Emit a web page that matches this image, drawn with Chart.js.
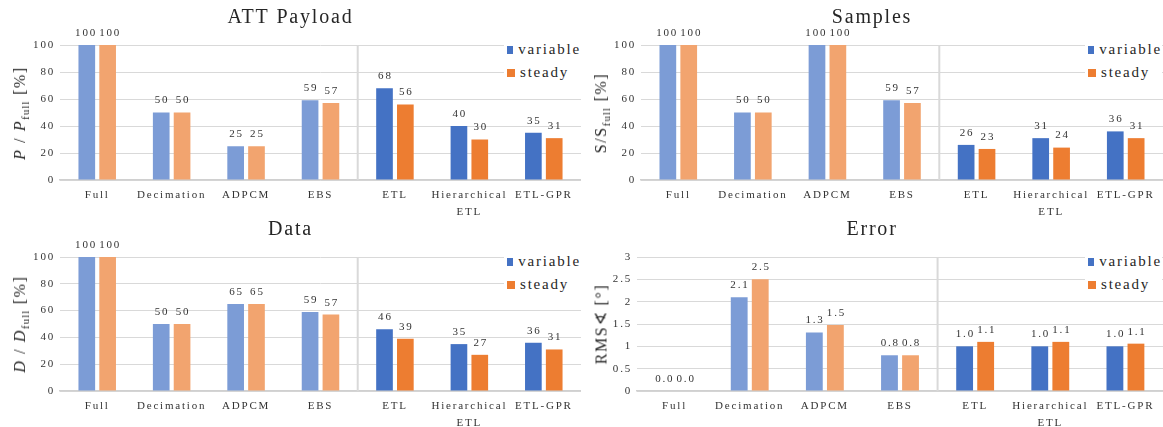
<!DOCTYPE html>
<html lang="en">
<head>
<meta charset="UTF-8">
<title>ATT Payload / Samples / Data / Error</title>
<script src="https://cdn.jsdelivr.net/npm/chart.js"></script>
<style>
body {
    margin: 0;
    background: #ffffff;
    width: 1163px;
    height: 427px;
    overflow: hidden;
    position: relative;
    font-family: 'Liberation Serif', 'Times New Roman', serif;
}
.panel {
    position: absolute;
}
.panel canvas {
    position: absolute;
    left: 0;
    top: 0;
}
/* titre de l'axe y, tourné */
.ytitle {
    position: absolute;
    left: 21px;
    top: 113px;
    transform: translate(-50%, -50%) rotate(-90deg);
    white-space: nowrap;
    font-size: 16px;
    letter-spacing: 1.6px;
    color: #262626;
}
.ytitle sub {
    font-size: 11px;
    vertical-align: -4px;
    letter-spacing: 1px;
}
.legend {
    position: absolute;
    left: 504px;
    top: 38px;
    width: 77px;
    background: #ffffff;
    font-size: 15px;
    letter-spacing: 1.8px;
    color: #262626;
}
.legend div {
    height: 23px;
    display: flex;
    align-items: center;
}
.legend span.box {
    display: inline-block;
    width: 8px;
    height: 8px;
    margin-left: 3px;
    margin-right: 5px;
}
</style>
</head>
<body>

<div class="panel" id="p1" style="left:0;top:0;">
    <canvas id="c1" width="581" height="222"></canvas>
    <div class="ytitle"><i>P</i> / <i>P</i><sub>full</sub> [%]</div>
    <div class="legend"><div><span class="box" style="background:#4472C4"></span>variable</div><div><span class="box" style="background:#ED7D31"></span>steady</div></div>
</div>
<div class="panel" id="p2" style="left:581px;top:0;">
    <canvas id="c2" width="582" height="222"></canvas>
    <div class="ytitle">S/S<sub>full</sub> [%]</div>
    <div class="legend"><div><span class="box" style="background:#4472C4"></span>variable</div><div><span class="box" style="background:#ED7D31"></span>steady</div></div>
</div>
<div class="panel" id="p3" style="left:0;top:212px;">
    <canvas id="c3" width="581" height="221"></canvas>
    <div class="ytitle" style="top:112px"><i>D</i> / <i>D</i><sub>full</sub> [%]</div>
    <div class="legend"><div><span class="box" style="background:#4472C4"></span>variable</div><div><span class="box" style="background:#ED7D31"></span>steady</div></div>
</div>
<div class="panel" id="p4" style="left:581px;top:212px;">
    <canvas id="c4" width="582" height="221"></canvas>
    <div class="ytitle" style="top:112px;left:20px;letter-spacing:1.6px">RMS∢ [°]</div>
    <div class="legend"><div><span class="box" style="background:#4472C4"></span>variable</div><div><span class="box" style="background:#ED7D31"></span>steady</div></div>
</div>

<script>
// catégories et valeurs
const categories = ['Full', 'Decimation', 'ADPCM', 'EBS', 'ETL', ['Hierarchical', 'ETL'], 'ETL-GPR'];

const payloadVariable = [100, 50, 25, 59, 68, 40, 35];
const payloadSteady   = [100, 50, 25, 57, 56, 30, 31];

const samplesVariable = [100, 50, 100, 59, 26, 31, 36];
const samplesSteady   = [100, 50, 100, 57, 23, 24, 31];

const dataVariable = [100, 50, 65, 59, 46, 35, 36];
const dataSteady   = [100, 50, 65, 57, 39, 27, 31];

const errorVariable = [0.0, 2.1, 1.31, 0.8, 1.0, 1.0, 1.0];
const errorSteady   = [0.0, 2.5, 1.48, 0.8, 1.1, 1.1, 1.06];

const percentTicks = [0, 20, 40, 60, 80, 100];
const errorTicks = [0, 0.5, 1, 1.5, 2, 2.5, 3];

const FONT = "'Liberation Serif', 'Times New Roman', serif";
const SPACING = 1.8;
const BLUE = '#4472C4', BLUE_LIGHT = '#7C9CD6';
const ORANGE = '#ED7D31', ORANGE_LIGHT = '#F2A46F';

// espacement des lettres (comme dans la figure d'origine)
const spacingPlugin = {
    id: 'spacing',
    beforeLayout(chart) { chart.ctx.letterSpacing = SPACING + 'px'; },
    beforeDraw(chart) { chart.ctx.letterSpacing = SPACING + 'px'; }
};

// trait vertical entre EBS et ETL
const separatorPlugin = {
    id: 'separator',
    beforeDatasetsDraw(chart) {
        const x = chart.scales.x;
        const area = chart.chartArea;
        const px = (x.getPixelForValue(3) + x.getPixelForValue(4)) / 2;
        const ctx = chart.ctx;
        ctx.save();
        ctx.strokeStyle = '#D9D9D9';
        ctx.lineWidth = 2;
        ctx.beginPath();
        ctx.moveTo(px, area.top);
        ctx.lineTo(px, area.bottom);
        ctx.stroke();
        ctx.restore();
    }
};

// valeurs au-dessus des barres (écartées si elles se chevauchent)
const valuesPlugin = {
    id: 'values',
    afterDatasetsDraw(chart) {
        const ctx = chart.ctx;
        const decimals = chart.options.plugins.values.decimals;
        const ds0 = chart.data.datasets[0], ds1 = chart.data.datasets[1];
        const bars0 = chart.getDatasetMeta(0).data, bars1 = chart.getDatasetMeta(1).data;
        ctx.save();
        ctx.letterSpacing = SPACING + 'px';
        ctx.font = '11px ' + FONT;
        ctx.fillStyle = '#333333';
        ctx.textAlign = 'center';
        ctx.textBaseline = 'middle';
        for (let j = 0; j < categories.length; j++) {
            const ta = ds0.data[j].toFixed(decimals);
            const tb = ds1.data[j].toFixed(decimals);
            const wa = ctx.measureText(ta).width - SPACING;
            const wb = ctx.measureText(tb).width - SPACING;
            let xa = bars0[j].x, xb = bars1[j].x;
            const overlap = wa / 2 + wb / 2 + 4 - (xb - xa);
            if (overlap > 0) {
                xa -= overlap / 2;
                xb += overlap / 2;
            }
            ctx.fillText(ta, xa + SPACING / 2, bars0[j].y - 12);
            ctx.fillText(tb, xb + SPACING / 2, bars1[j].y - 12);
        }
        ctx.restore();
    }
};

function shades(dark, light) {
    return categories.map((c, i) => i < 4 ? light : dark);
}

function renderPanel(canvasId, title, variable, steady, ticks, yWidth, decimals) {
    const ctx = document.getElementById(canvasId).getContext('2d');
    return new Chart(ctx, {
        type: 'bar',
        data: {
            labels: categories,
            datasets: [{
                label: 'variable',
                data: variable,
                backgroundColor: shades(BLUE, BLUE_LIGHT),
                categoryPercentage: 0.56,
                barPercentage: 0.8
            }, {
                label: 'steady',
                data: steady,
                backgroundColor: shades(ORANGE, ORANGE_LIGHT),
                categoryPercentage: 0.56,
                barPercentage: 0.8
            }]
        },
        options: {
            responsive: false,
            animation: false,
            layout: { padding: 0 },
            plugins: {
                legend: { display: false },
                tooltip: { enabled: false },
                title: {
                    display: true,
                    text: title,
                    color: '#262626',
                    font: { family: FONT, size: 20, weight: 'normal', lineHeight: 1.2 },
                    padding: { top: 6, bottom: 15 }
                },
                values: { decimals: decimals }
            },
            scales: {
                x: {
                    grid: { display: false, drawTicks: false },
                    border: { display: true, color: '#D0D0D0', width: 1.5 },
                    ticks: {
                        color: '#333333',
                        font: { family: FONT, size: 11, lineHeight: 1.5 },
                        padding: 7,
                        maxRotation: 0,
                        autoSkip: false
                    },
                    afterFit(scale) { scale.height = 42; }
                },
                y: {
                    min: ticks[0],
                    max: ticks[ticks.length - 1],
                    afterBuildTicks(scale) { scale.ticks = ticks.map(v => ({ value: v })); },
                    grid: { color: '#D9D9D9', lineWidth: 1, drawTicks: false },
                    border: { display: false },
                    ticks: {
                        color: '#333333',
                        font: { family: FONT, size: 11 },
                        padding: 5,
                        callback: v => String(v)
                    },
                    afterFit(scale) { scale.width = yWidth; }
                }
            }
        },
        plugins: [spacingPlugin, separatorPlugin, valuesPlugin]
    });
}

renderPanel('c1', 'ATT Payload', payloadVariable, payloadSteady, percentTicks, 60, 0);
renderPanel('c2', 'Samples', samplesVariable, samplesSteady, percentTicks, 60, 0);
renderPanel('c3', 'Data', dataVariable, dataSteady, percentTicks, 60, 0);
renderPanel('c4', 'Error', errorVariable, errorSteady, errorTicks, 56, 1);
</script>
</body>
</html>
